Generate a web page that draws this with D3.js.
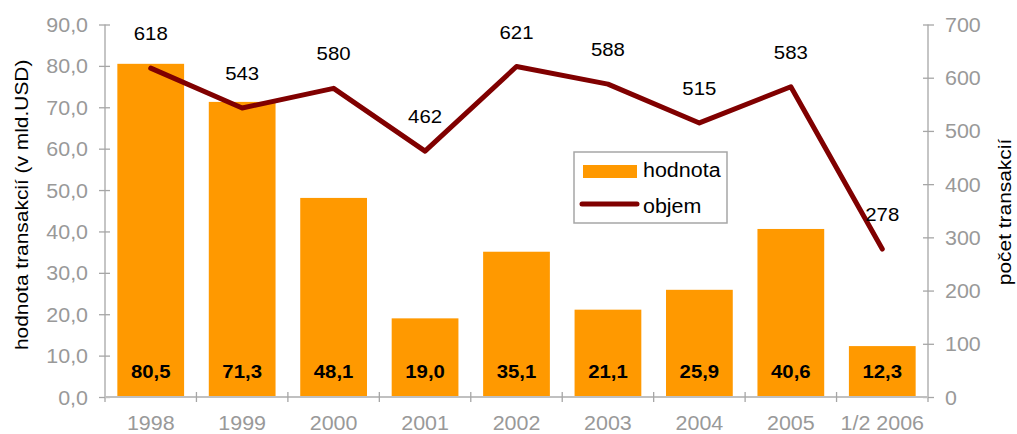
<!DOCTYPE html>
<html>
<head>
<meta charset="utf-8">
<script src="https://cdn.jsdelivr.net/npm/d3@7"></script>
<style>
  body { margin: 0; background: #fff; }
  svg { display: block; font-family: "Liberation Sans", Arial, sans-serif; }
</style>
</head>
<body>
<svg id="chart" width="1017" height="434"></svg>
<script>
// Categories and series
const years = ["1998", "1999", "2000", "2001", "2002", "2003", "2004", "2005", "1/2 2006"];
const hodnota = [80.5, 71.3, 48.1, 19.0, 35.1, 21.1, 25.9, 40.6, 12.3];
const objem = [618, 543, 580, 462, 621, 588, 515, 583, 278];
const leftTicks = [0, 10, 20, 30, 40, 50, 60, 70, 80, 90];
const rightTicks = [0, 100, 200, 300, 400, 500, 600, 700];

const svg = d3.select("#chart");
const mLeft = 105, mRight = 928, mTop = 24.5, mBottom = 397;
const fmt = v => d3.format(".1f")(v).replace(".", ",");

const x = d3.scaleBand().domain(years).range([mLeft, mRight]).paddingInner(0.27).paddingOuter(0.135);
const yL = d3.scaleLinear().domain([0, 90]).range([mBottom, mTop]);
const yR = d3.scaleLinear().domain([0, 700]).range([mBottom, mTop]);

// Bars
svg.append("g").selectAll("rect").data(hodnota).join("rect")
  .attr("x", (d, i) => x(years[i]))
  .attr("y", d => yL(d))
  .attr("width", x.bandwidth())
  .attr("height", d => mBottom - yL(d))
  .attr("fill", "#FF9900");

// Bar value labels
svg.append("g").selectAll("text").data(hodnota).join("text")
  .attr("class", "wide")
  .attr("x", (d, i) => x(years[i]) + x.bandwidth() / 2)
  .attr("y", 378)
  .attr("text-anchor", "middle")
  .attr("font-size", 18.5).attr("font-weight", "bold").attr("fill", "#000")
  .text(d => fmt(d));

// Axes styling helper
function styleAxis(g, color) {
  g.select(".domain").attr("stroke", color).attr("stroke-width", 1.3);
  g.selectAll(".tick line").attr("stroke", color).attr("stroke-width", 1.3);
  g.selectAll(".tick text").attr("fill", "#999").attr("font-size", 19.5)
    .attr("font-family", "Liberation Sans, Arial, sans-serif").attr("class", "wide");
}

// Left axis
const gL = svg.append("g").attr("transform", `translate(${mLeft},0)`)
  .call(d3.axisLeft(yL).tickValues(leftTicks).tickFormat(fmt).tickSize(6).tickSizeOuter(0).tickPadding(11));
gL.select(".domain").attr("d", `M0,${mTop}V${mBottom + 5}`);
gL.selectAll(".tick line").attr("x1", 5);
styleAxis(gL, "#a6a6a6");
gL.selectAll(".tick text").attr("dy", "0.36em");

// Right axis
const gR = svg.append("g").attr("transform", `translate(${mRight},0)`)
  .call(d3.axisRight(yR).tickValues(rightTicks).tickSize(6).tickSizeOuter(0).tickPadding(11));
gR.select(".domain").attr("d", `M0,${mTop}V${mBottom + 5}`);
gR.selectAll(".tick line").attr("x1", -5);
styleAxis(gR, "#a6a6a6");
gR.selectAll(".tick text").attr("dy", "0.36em");

// Category axis with ticks between bands
const gX = svg.append("g").attr("transform", `translate(0,${mBottom})`)
  .call(d3.axisBottom(x).tickSize(0));
gX.select(".domain").attr("d", `M${mLeft},0H${mRight}`).attr("stroke", "#c0c0c0").attr("stroke-width", 2);
gX.selectAll(".tick text").attr("fill", "#999").attr("font-size", 19.5)
  .attr("font-family", "Liberation Sans, Arial, sans-serif")
  .attr("y", 33).attr("dy", 0).attr("class", "wide");
const step = x.step();
gX.append("g").selectAll("line").data(years.slice(1)).join("line")
  .attr("x1", d => x(d) - x.paddingInner() * step / 2)
  .attr("x2", d => x(d) - x.paddingInner() * step / 2)
  .attr("y1", -5).attr("y2", 5)
  .attr("stroke", "#a6a6a6").attr("stroke-width", 1.3);

// Line series
const line = d3.line()
  .x((d, i) => x(years[i]) + x.bandwidth() / 2)
  .y(d => yR(d));
svg.append("path").datum(objem)
  .attr("d", line)
  .attr("fill", "none").attr("stroke", "#800000")
  .attr("stroke-width", 5).attr("stroke-linejoin", "round").attr("stroke-linecap", "round");

svg.append("g").selectAll("text").data(objem).join("text")
  .attr("class", "wide")
  .attr("x", (d, i) => x(years[i]) + x.bandwidth() / 2)
  .attr("y", d => yR(d) - 28)
  .attr("text-anchor", "middle")
  .attr("font-size", 18.5).attr("fill", "#000")
  .text(d => d);

// Axis titles
svg.append("text").attr("class", "wide")
  .attr("transform", "translate(28,350) rotate(-90)")
  .attr("font-size", 19).attr("fill", "#000")
  .text("hodnota transakcií (v mld.USD)");
svg.append("text").attr("class", "wide")
  .attr("transform", "translate(1011,212) rotate(-90)")
  .attr("text-anchor", "middle")
  .attr("font-size", 19).attr("fill", "#000")
  .text("počet transakcií");

// Legend
const lg = svg.append("g");
lg.append("rect").attr("x", 574).attr("y", 152).attr("width", 153).attr("height", 71)
  .attr("fill", "#fff").attr("stroke", "#a6a6a6").attr("stroke-width", 1.5);
lg.append("rect").attr("x", 583).attr("y", 165).attr("width", 54).attr("height", 13).attr("fill", "#FF9900");
lg.append("line").attr("x1", 582).attr("x2", 637).attr("y1", 204).attr("y2", 204)
  .attr("stroke", "#800000").attr("stroke-width", 5).attr("stroke-linecap", "round");
lg.append("text").attr("class", "wide").attr("x", 643).attr("y", 177).attr("font-size", 19.5).text("hodnota");
lg.append("text").attr("class", "wide").attr("x", 643).attr("y", 213).attr("font-size", 19.5).text("objem");

// Slightly widened lettering
svg.selectAll("text.wide").each(function () {
  const w = this.getComputedTextLength();
  this.setAttribute("textLength", (w * 1.1).toFixed(1));
  this.setAttribute("lengthAdjust", "spacingAndGlyphs");
});
</script>
</body>
</html>
